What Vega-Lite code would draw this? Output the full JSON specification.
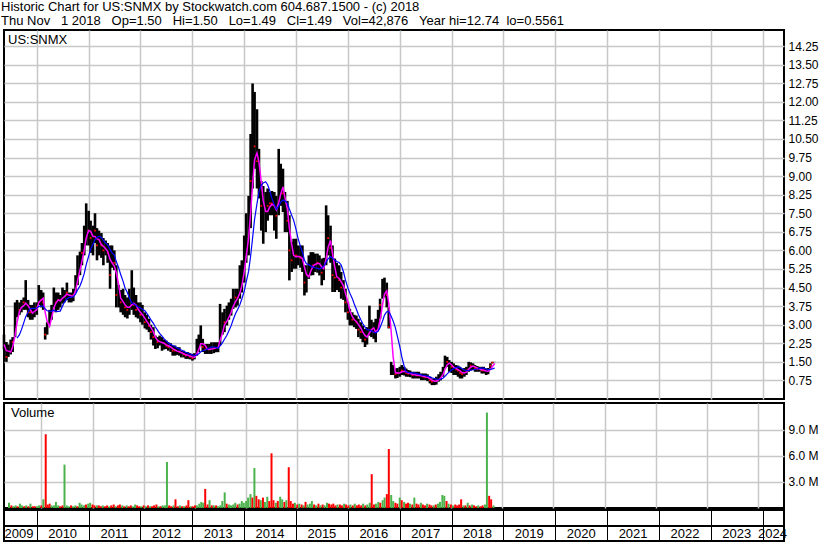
{
 "$schema": "https://vega.github.io/schema/vega-lite/v6.json",
 "background": "white",
 "padding": {"left": 0, "top": 1, "right": 0, "bottom": 0},
 "title": {"text": ["Historic Chart for US:SNMX by Stockwatch.com 604.687.1500 - (c) 2018", "Thu Nov\u00a0\u00a0\u00a01 2018\u00a0\u00a0\u00a0Op=1.50\u00a0\u00a0\u00a0Hi=1.50\u00a0\u00a0\u00a0Lo=1.49\u00a0\u00a0\u00a0Cl=1.49\u00a0\u00a0\u00a0Vol=42,876\u00a0\u00a0\u00a0Year hi=12.74\u00a0\u00a0lo=0.5561"], "anchor": "start", "font": "Liberation Sans", "fontSize": 13, "fontWeight": "normal", "lineHeight": 14, "offset": 1, "dx": 1, "color": "black"},
 "spacing": 2,
 "datasets": {
  "p": [
{"d":"2009-05-15","h":2.6,"l":2.0,"c":2.2,"v":0.6,"g":1},
{"d":"2009-06-01","h":2.3,"l":1.5,"c":1.7,"v":0.3,"g":0},
{"d":"2009-06-15","h":2.2,"l":1.7,"c":1.9,"v":0.2,"g":1},
{"d":"2009-07-01","h":2.4,"l":1.8,"c":2.1,"v":0.3,"g":1},
{"d":"2009-07-15","h":2.5,"l":1.9,"c":2.3,"v":0.2,"g":0},
{"d":"2009-08-01","h":3.9,"l":2.5,"c":3.3,"v":0.5,"g":1},
{"d":"2009-08-15","h":4.0,"l":3.3,"c":3.7,"v":0.3,"g":1},
{"d":"2009-09-01","h":3.9,"l":3.4,"c":3.6,"v":0.2,"g":0},
{"d":"2009-09-15","h":4.0,"l":3.5,"c":3.8,"v":0.3,"g":1},
{"d":"2009-10-01","h":4.1,"l":3.6,"c":3.9,"v":0.2,"g":0},
{"d":"2009-10-15","h":4.8,"l":3.6,"c":3.9,"v":0.5,"g":1},
{"d":"2009-11-01","h":4.0,"l":3.3,"c":3.5,"v":0.2,"g":0},
{"d":"2009-11-15","h":3.8,"l":3.2,"c":3.5,"v":0.2,"g":0},
{"d":"2009-12-01","h":3.8,"l":3.2,"c":3.4,"v":0.2,"g":1},
{"d":"2009-12-15","h":3.9,"l":3.3,"c":3.7,"v":0.3,"g":1},
{"d":"2010-01-01","h":3.9,"l":3.4,"c":3.7,"v":0.3,"g":0},
{"d":"2010-01-15","h":4.6,"l":3.8,"c":4.3,"v":1.0,"g":1},
{"d":"2010-02-01","h":4.4,"l":3.7,"c":4.0,"v":8.5,"g":0},
{"d":"2010-02-15","h":4.3,"l":3.6,"c":3.9,"v":0.4,"g":0},
{"d":"2010-03-01","h":2.9,"l":2.4,"c":2.6,"v":0.5,"g":0},
{"d":"2010-03-15","h":3.1,"l":2.6,"c":2.9,"v":0.3,"g":1},
{"d":"2010-04-01","h":3.6,"l":3.0,"c":3.3,"v":0.3,"g":1},
{"d":"2010-04-15","h":3.8,"l":3.2,"c":3.6,"v":0.7,"g":1},
{"d":"2010-05-01","h":4.5,"l":3.7,"c":4.1,"v":0.3,"g":1},
{"d":"2010-05-15","h":4.3,"l":3.5,"c":3.9,"v":0.2,"g":0},
{"d":"2010-06-01","h":4.3,"l":3.6,"c":4.0,"v":0.3,"g":0},
{"d":"2010-06-15","h":4.2,"l":3.7,"c":4.0,"v":5.0,"g":1},
{"d":"2010-07-01","h":4.5,"l":3.85,"c":4.2,"v":0.3,"g":1},
{"d":"2010-07-15","h":4.4,"l":3.9,"c":4.2,"v":0.2,"g":1},
{"d":"2010-08-01","h":4.7,"l":4.0,"c":4.3,"v":0.3,"g":0},
{"d":"2010-08-15","h":4.3,"l":3.9,"c":4.1,"v":0.2,"g":1},
{"d":"2010-09-01","h":4.3,"l":3.9,"c":4.1,"v":0.3,"g":1},
{"d":"2010-09-15","h":4.45,"l":3.95,"c":4.2,"v":0.2,"g":0},
{"d":"2010-10-01","h":5.0,"l":4.3,"c":4.8,"v":0.6,"g":1},
{"d":"2010-10-15","h":5.8,"l":4.6,"c":5.3,"v":0.4,"g":1},
{"d":"2010-11-01","h":5.95,"l":5.0,"c":5.5,"v":0.3,"g":1},
{"d":"2010-11-15","h":6.3,"l":5.4,"c":5.9,"v":0.4,"g":0},
{"d":"2010-12-01","h":7.0,"l":5.8,"c":6.6,"v":0.5,"g":1},
{"d":"2010-12-15","h":7.9,"l":6.2,"c":7.0,"v":0.6,"g":1},
{"d":"2011-01-01","h":7.6,"l":6.2,"c":6.8,"v":0.4,"g":0},
{"d":"2011-01-15","h":7.2,"l":5.9,"c":6.5,"v":0.3,"g":0},
{"d":"2011-02-01","h":7.0,"l":5.8,"c":6.4,"v":0.3,"g":1},
{"d":"2011-02-15","h":7.5,"l":6.3,"c":6.8,"v":0.3,"g":0},
{"d":"2011-03-01","h":6.9,"l":5.6,"c":6.2,"v":0.2,"g":0},
{"d":"2011-03-15","h":6.8,"l":5.8,"c":6.3,"v":0.3,"g":1},
{"d":"2011-04-01","h":6.7,"l":5.7,"c":6.2,"v":0.2,"g":0},
{"d":"2011-04-15","h":6.5,"l":5.4,"c":6.0,"v":0.3,"g":0},
{"d":"2011-05-01","h":6.4,"l":5.8,"c":6.0,"v":0.2,"g":1},
{"d":"2011-05-15","h":6.3,"l":5.5,"c":5.9,"v":0.3,"g":0},
{"d":"2011-06-01","h":6.2,"l":4.45,"c":5.0,"v":0.4,"g":0},
{"d":"2011-06-15","h":6.2,"l":5.3,"c":5.6,"v":0.2,"g":1},
{"d":"2011-07-01","h":6.0,"l":5.2,"c":5.5,"v":0.3,"g":0},
{"d":"2011-07-15","h":5.4,"l":3.7,"c":4.2,"v":0.4,"g":0},
{"d":"2011-08-01","h":4.6,"l":3.7,"c":4.1,"v":0.3,"g":1},
{"d":"2011-08-15","h":4.4,"l":3.5,"c":3.9,"v":0.2,"g":0},
{"d":"2011-09-01","h":4.45,"l":3.4,"c":3.8,"v":0.3,"g":1},
{"d":"2011-09-15","h":4.2,"l":3.3,"c":3.7,"v":0.2,"g":0},
{"d":"2011-10-01","h":4.1,"l":3.25,"c":3.6,"v":0.3,"g":0},
{"d":"2011-10-15","h":4.45,"l":3.4,"c":3.8,"v":0.2,"g":1},
{"d":"2011-11-01","h":5.2,"l":3.6,"c":4.0,"v":0.4,"g":1},
{"d":"2011-11-15","h":4.5,"l":3.4,"c":3.8,"v":0.3,"g":0},
{"d":"2011-12-01","h":4.2,"l":3.3,"c":3.6,"v":0.2,"g":0},
{"d":"2011-12-15","h":3.9,"l":3.25,"c":3.5,"v":0.2,"g":1},
{"d":"2012-01-01","h":3.9,"l":3.1,"c":3.4,"v":0.3,"g":0},
{"d":"2012-01-15","h":3.8,"l":3.0,"c":3.3,"v":0.2,"g":1},
{"d":"2012-02-01","h":3.5,"l":2.85,"c":3.1,"v":0.3,"g":0},
{"d":"2012-02-15","h":3.4,"l":2.8,"c":3.0,"v":0.2,"g":1},
{"d":"2012-03-01","h":3.24,"l":2.7,"c":2.95,"v":0.2,"g":0},
{"d":"2012-03-15","h":3.0,"l":2.4,"c":2.7,"v":0.3,"g":0},
{"d":"2012-04-01","h":2.9,"l":2.16,"c":2.5,"v":0.4,"g":0},
{"d":"2012-04-15","h":2.56,"l":2.02,"c":2.3,"v":0.2,"g":1},
{"d":"2012-05-01","h":2.5,"l":2.05,"c":2.3,"v":0.2,"g":0},
{"d":"2012-05-15","h":2.56,"l":2.16,"c":2.35,"v":0.3,"g":1},
{"d":"2012-06-01","h":2.5,"l":1.95,"c":2.2,"v":0.3,"g":1},
{"d":"2012-06-15","h":2.4,"l":2.0,"c":2.2,"v":5.3,"g":1},
{"d":"2012-07-01","h":2.36,"l":2.02,"c":2.15,"v":0.3,"g":0},
{"d":"2012-07-15","h":2.29,"l":1.95,"c":2.1,"v":0.2,"g":0},
{"d":"2012-08-01","h":2.25,"l":1.9,"c":2.05,"v":0.3,"g":1},
{"d":"2012-08-15","h":2.16,"l":1.75,"c":1.95,"v":1.0,"g":0},
{"d":"2012-09-01","h":2.16,"l":1.75,"c":1.95,"v":0.2,"g":0},
{"d":"2012-09-15","h":2.1,"l":1.78,"c":1.9,"v":0.3,"g":1},
{"d":"2012-10-01","h":2.09,"l":1.75,"c":1.9,"v":0.2,"g":0},
{"d":"2012-10-15","h":1.95,"l":1.68,"c":1.8,"v":0.2,"g":1},
{"d":"2012-11-01","h":1.95,"l":1.68,"c":1.8,"v":0.3,"g":0},
{"d":"2012-11-15","h":1.89,"l":1.62,"c":1.75,"v":0.9,"g":0},
{"d":"2012-12-01","h":1.89,"l":1.62,"c":1.75,"v":0.2,"g":1},
{"d":"2012-12-15","h":1.85,"l":1.6,"c":1.7,"v":0.2,"g":0},
{"d":"2013-01-01","h":1.82,"l":1.55,"c":1.65,"v":0.3,"g":0},
{"d":"2013-01-15","h":1.85,"l":1.6,"c":1.7,"v":0.3,"g":1},
{"d":"2013-02-01","h":2.43,"l":1.75,"c":2.1,"v":0.5,"g":1},
{"d":"2013-02-15","h":2.6,"l":1.9,"c":2.2,"v":0.7,"g":1},
{"d":"2013-03-01","h":2.97,"l":2.16,"c":2.4,"v":0.6,"g":1},
{"d":"2013-03-15","h":2.43,"l":1.9,"c":2.1,"v":2.2,"g":0},
{"d":"2013-04-01","h":2.22,"l":1.82,"c":2.0,"v":0.4,"g":0},
{"d":"2013-04-15","h":2.22,"l":1.82,"c":2.0,"v":0.9,"g":1},
{"d":"2013-05-01","h":2.22,"l":1.82,"c":2.0,"v":0.3,"g":0},
{"d":"2013-05-15","h":2.29,"l":1.82,"c":2.05,"v":0.3,"g":1},
{"d":"2013-06-01","h":2.29,"l":1.85,"c":2.05,"v":0.3,"g":0},
{"d":"2013-06-15","h":2.29,"l":1.89,"c":2.1,"v":0.2,"g":1},
{"d":"2013-07-01","h":2.29,"l":1.89,"c":2.1,"v":0.3,"g":1},
{"d":"2013-07-15","h":3.84,"l":2.16,"c":2.9,"v":0.8,"g":1},
{"d":"2013-08-01","h":3.5,"l":2.6,"c":3.0,"v":1.8,"g":1},
{"d":"2013-08-15","h":3.64,"l":2.7,"c":3.1,"v":0.5,"g":0},
{"d":"2013-09-01","h":3.77,"l":2.97,"c":3.3,"v":0.4,"g":1},
{"d":"2013-09-15","h":3.9,"l":3.2,"c":3.5,"v":0.3,"g":1},
{"d":"2013-10-01","h":4.05,"l":3.37,"c":3.7,"v":0.4,"g":1},
{"d":"2013-10-15","h":4.45,"l":3.64,"c":4.0,"v":0.6,"g":1},
{"d":"2013-11-01","h":4.45,"l":3.7,"c":4.1,"v":0.4,"g":0},
{"d":"2013-11-15","h":4.45,"l":3.77,"c":4.1,"v":0.5,"g":1},
{"d":"2013-12-01","h":5.4,"l":4.05,"c":4.6,"v":0.8,"g":1},
{"d":"2013-12-15","h":5.6,"l":4.3,"c":5.0,"v":0.6,"g":1},
{"d":"2014-01-01","h":6.6,"l":4.7,"c":5.8,"v":0.8,"g":1},
{"d":"2014-01-15","h":7.5,"l":5.5,"c":6.5,"v":1.2,"g":1},
{"d":"2014-02-01","h":8.2,"l":5.8,"c":7.2,"v":1.6,"g":1},
{"d":"2014-02-15","h":10.7,"l":6.9,"c":8.8,"v":1.2,"g":0},
{"d":"2014-03-01","h":12.74,"l":8.5,"c":10.0,"v":4.6,"g":1},
{"d":"2014-03-15","h":12.4,"l":9.3,"c":10.2,"v":1.4,"g":0},
{"d":"2014-04-01","h":11.7,"l":8.5,"c":9.6,"v":1.0,"g":0},
{"d":"2014-04-15","h":10.1,"l":8.1,"c":8.9,"v":0.9,"g":1},
{"d":"2014-05-01","h":8.8,"l":6.8,"c":7.8,"v":1.2,"g":0},
{"d":"2014-05-15","h":8.6,"l":6.27,"c":7.3,"v":0.7,"g":1},
{"d":"2014-06-01","h":8.36,"l":6.74,"c":7.6,"v":1.3,"g":1},
{"d":"2014-06-15","h":8.5,"l":7.2,"c":7.8,"v":0.8,"g":0},
{"d":"2014-07-01","h":8.36,"l":7.42,"c":7.9,"v":6.3,"g":0},
{"d":"2014-07-15","h":8.4,"l":7.42,"c":7.9,"v":0.9,"g":0},
{"d":"2014-08-01","h":8.36,"l":6.8,"c":7.6,"v":0.6,"g":1},
{"d":"2014-08-15","h":8.2,"l":6.47,"c":7.4,"v":0.8,"g":0},
{"d":"2014-09-01","h":10.1,"l":7.42,"c":8.8,"v":1.3,"g":1},
{"d":"2014-09-15","h":9.5,"l":7.8,"c":8.6,"v":1.0,"g":1},
{"d":"2014-10-01","h":9.3,"l":7.55,"c":8.3,"v":0.7,"g":0},
{"d":"2014-10-15","h":8.36,"l":6.74,"c":7.5,"v":0.9,"g":1},
{"d":"2014-11-01","h":8.0,"l":6.74,"c":7.2,"v":4.7,"g":0},
{"d":"2014-11-15","h":7.42,"l":4.79,"c":6.0,"v":0.8,"g":0},
{"d":"2014-12-01","h":6.34,"l":5.13,"c":5.6,"v":0.5,"g":0},
{"d":"2014-12-15","h":6.47,"l":5.26,"c":5.8,"v":0.6,"g":1},
{"d":"2015-01-01","h":6.47,"l":5.26,"c":5.8,"v":0.4,"g":0},
{"d":"2015-01-15","h":6.2,"l":5.4,"c":5.7,"v":0.5,"g":1},
{"d":"2015-02-01","h":6.2,"l":5.3,"c":5.7,"v":0.4,"g":0},
{"d":"2015-02-15","h":6.2,"l":5.13,"c":5.6,"v":0.3,"g":1},
{"d":"2015-03-01","h":5.4,"l":4.18,"c":4.7,"v":0.7,"g":0},
{"d":"2015-03-15","h":5.4,"l":4.3,"c":4.8,"v":0.4,"g":1},
{"d":"2015-04-01","h":5.8,"l":4.85,"c":5.3,"v":0.5,"g":1},
{"d":"2015-04-15","h":5.93,"l":4.99,"c":5.4,"v":0.8,"g":1},
{"d":"2015-05-01","h":5.93,"l":5.0,"c":5.4,"v":0.4,"g":0},
{"d":"2015-05-15","h":5.87,"l":5.13,"c":5.5,"v":0.3,"g":1},
{"d":"2015-06-01","h":5.87,"l":5.1,"c":5.5,"v":0.5,"g":0},
{"d":"2015-06-15","h":5.8,"l":4.99,"c":5.4,"v":0.3,"g":1},
{"d":"2015-07-01","h":5.67,"l":4.59,"c":5.1,"v":0.4,"g":0},
{"d":"2015-07-15","h":5.7,"l":4.8,"c":5.3,"v":0.3,"g":1},
{"d":"2015-08-01","h":7.82,"l":5.4,"c":6.6,"v":0.6,"g":1},
{"d":"2015-08-15","h":7.42,"l":5.8,"c":6.5,"v":0.5,"g":0},
{"d":"2015-09-01","h":7.0,"l":5.5,"c":6.1,"v":0.4,"g":0},
{"d":"2015-09-15","h":6.2,"l":4.32,"c":5.0,"v":0.5,"g":0},
{"d":"2015-10-01","h":5.67,"l":4.32,"c":4.9,"v":0.3,"g":0},
{"d":"2015-10-15","h":5.5,"l":4.4,"c":4.9,"v":0.4,"g":1},
{"d":"2015-11-01","h":5.4,"l":4.32,"c":4.8,"v":0.4,"g":0},
{"d":"2015-11-15","h":5.13,"l":4.05,"c":4.5,"v":0.3,"g":0},
{"d":"2015-12-01","h":4.8,"l":4.0,"c":4.4,"v":0.5,"g":1},
{"d":"2015-12-15","h":4.45,"l":3.5,"c":3.9,"v":0.4,"g":0},
{"d":"2016-01-01","h":3.9,"l":3.2,"c":3.5,"v":0.3,"g":0},
{"d":"2016-01-15","h":3.64,"l":2.97,"c":3.3,"v":0.4,"g":1},
{"d":"2016-02-01","h":3.5,"l":2.97,"c":3.2,"v":0.3,"g":0},
{"d":"2016-02-15","h":3.4,"l":2.9,"c":3.1,"v":0.5,"g":1},
{"d":"2016-03-01","h":3.37,"l":2.83,"c":3.1,"v":0.3,"g":0},
{"d":"2016-03-15","h":3.24,"l":2.5,"c":2.8,"v":0.4,"g":0},
{"d":"2016-04-01","h":3.1,"l":2.43,"c":2.7,"v":0.3,"g":0},
{"d":"2016-04-15","h":2.97,"l":2.29,"c":2.6,"v":0.5,"g":1},
{"d":"2016-05-01","h":2.83,"l":2.1,"c":2.4,"v":0.3,"g":0},
{"d":"2016-05-15","h":2.9,"l":2.2,"c":2.5,"v":0.4,"g":1},
{"d":"2016-06-01","h":3.77,"l":2.56,"c":3.1,"v":0.6,"g":1},
{"d":"2016-06-15","h":3.2,"l":2.5,"c":2.8,"v":3.9,"g":0},
{"d":"2016-07-01","h":3.1,"l":2.43,"c":2.7,"v":0.4,"g":0},
{"d":"2016-07-15","h":3.24,"l":2.29,"c":2.6,"v":0.5,"g":1},
{"d":"2016-08-01","h":3.6,"l":2.8,"c":3.2,"v":0.7,"g":1},
{"d":"2016-08-15","h":4.05,"l":3.24,"c":3.8,"v":0.6,"g":0},
{"d":"2016-09-01","h":4.85,"l":4.05,"c":4.4,"v":0.9,"g":1},
{"d":"2016-09-15","h":4.9,"l":4.1,"c":4.5,"v":1.2,"g":1},
{"d":"2016-10-01","h":4.7,"l":3.7,"c":4.2,"v":1.6,"g":0},
{"d":"2016-10-15","h":3.7,"l":2.85,"c":2.9,"v":6.8,"g":0},
{"d":"2016-11-01","h":1.5,"l":0.97,"c":1.1,"v":1.5,"g":1},
{"d":"2016-11-15","h":1.37,"l":0.97,"c":1.1,"v":0.8,"g":1},
{"d":"2016-12-01","h":1.23,"l":0.83,"c":1.0,"v":0.6,"g":0},
{"d":"2016-12-15","h":1.25,"l":0.85,"c":1.05,"v":0.5,"g":0},
{"d":"2017-01-01","h":1.3,"l":0.9,"c":1.1,"v":1.2,"g":1},
{"d":"2017-01-15","h":1.37,"l":0.97,"c":1.15,"v":0.9,"g":0},
{"d":"2017-02-01","h":1.3,"l":0.95,"c":1.1,"v":0.7,"g":1},
{"d":"2017-02-15","h":1.23,"l":0.9,"c":1.05,"v":0.5,"g":0},
{"d":"2017-03-01","h":1.17,"l":0.9,"c":1.02,"v":0.6,"g":0},
{"d":"2017-03-15","h":1.15,"l":0.88,"c":1.0,"v":0.5,"g":1},
{"d":"2017-04-01","h":1.1,"l":0.83,"c":0.97,"v":0.4,"g":0},
{"d":"2017-04-15","h":1.1,"l":0.83,"c":0.97,"v":1.2,"g":1},
{"d":"2017-05-01","h":1.1,"l":0.83,"c":0.95,"v":0.5,"g":0},
{"d":"2017-05-15","h":1.1,"l":0.83,"c":0.95,"v":0.4,"g":0},
{"d":"2017-06-01","h":1.03,"l":0.76,"c":0.9,"v":0.6,"g":1},
{"d":"2017-06-15","h":1.03,"l":0.76,"c":0.9,"v":0.4,"g":0},
{"d":"2017-07-01","h":1.03,"l":0.76,"c":0.88,"v":0.3,"g":0},
{"d":"2017-07-15","h":1.0,"l":0.72,"c":0.85,"v":0.5,"g":1},
{"d":"2017-08-01","h":0.9,"l":0.63,"c":0.75,"v":0.4,"g":0},
{"d":"2017-08-15","h":0.83,"l":0.56,"c":0.7,"v":0.3,"g":0},
{"d":"2017-09-01","h":0.83,"l":0.56,"c":0.7,"v":0.3,"g":1},
{"d":"2017-09-15","h":0.9,"l":0.58,"c":0.75,"v":0.4,"g":0},
{"d":"2017-10-01","h":1.0,"l":0.7,"c":0.85,"v":0.5,"g":1},
{"d":"2017-10-15","h":1.1,"l":0.75,"c":0.95,"v":0.7,"g":1},
{"d":"2017-11-01","h":1.3,"l":0.9,"c":1.15,"v":1.5,"g":1},
{"d":"2017-11-15","h":1.75,"l":1.23,"c":1.5,"v":1.4,"g":1},
{"d":"2017-12-01","h":1.7,"l":1.3,"c":1.5,"v":0.8,"g":0},
{"d":"2017-12-15","h":1.57,"l":1.1,"c":1.35,"v":0.5,"g":1},
{"d":"2018-01-01","h":1.5,"l":1.05,"c":1.3,"v":0.4,"g":0},
{"d":"2018-01-15","h":1.44,"l":0.97,"c":1.2,"v":0.3,"g":1},
{"d":"2018-02-01","h":1.37,"l":0.97,"c":1.2,"v":0.4,"g":0},
{"d":"2018-02-15","h":1.35,"l":0.9,"c":1.15,"v":0.3,"g":0},
{"d":"2018-03-01","h":1.3,"l":0.83,"c":1.05,"v":0.4,"g":0},
{"d":"2018-03-15","h":1.23,"l":0.83,"c":1.0,"v":1.0,"g":0},
{"d":"2018-04-01","h":1.25,"l":0.9,"c":1.1,"v":0.3,"g":1},
{"d":"2018-04-15","h":1.3,"l":0.97,"c":1.15,"v":0.3,"g":0},
{"d":"2018-05-01","h":1.5,"l":1.1,"c":1.35,"v":0.6,"g":1},
{"d":"2018-05-15","h":1.48,"l":1.15,"c":1.35,"v":0.3,"g":0},
{"d":"2018-06-01","h":1.44,"l":1.17,"c":1.3,"v":0.4,"g":1},
{"d":"2018-06-15","h":1.37,"l":1.1,"c":1.25,"v":0.3,"g":0},
{"d":"2018-07-01","h":1.33,"l":1.1,"c":1.2,"v":0.2,"g":0},
{"d":"2018-07-15","h":1.3,"l":1.1,"c":1.2,"v":0.3,"g":1},
{"d":"2018-08-01","h":1.3,"l":1.03,"c":1.15,"v":0.2,"g":0},
{"d":"2018-08-15","h":1.3,"l":1.03,"c":1.15,"v":0.3,"g":0},
{"d":"2018-09-01","h":1.23,"l":0.97,"c":1.1,"v":0.4,"g":1},
{"d":"2018-09-15","h":1.25,"l":1.0,"c":1.12,"v":11.0,"g":1},
{"d":"2018-10-01","h":1.44,"l":1.23,"c":1.35,"v":1.4,"g":0},
{"d":"2018-10-15","h":1.5,"l":1.44,"c":1.47,"v":1.0,"g":0},
{"d":"2018-11-01","h":1.5,"l":1.49,"c":1.49,"v":0.3,"g":1}
  ],
  "yrs": [
{"yr":"2009","m":"2009-08-29"},{"yr":"2010","m":"2010-07-02"},{"yr":"2011","m":"2011-07-02"},{"yr":"2012","m":"2012-07-02"},{"yr":"2013","m":"2013-07-02"},{"yr":"2014","m":"2014-07-02"},{"yr":"2015","m":"2015-07-02"},{"yr":"2016","m":"2016-07-02"},{"yr":"2017","m":"2017-07-02"},{"yr":"2018","m":"2018-07-02"},{"yr":"2019","m":"2019-07-02"},{"yr":"2020","m":"2020-07-02"},{"yr":"2021","m":"2021-07-02"},{"yr":"2022","m":"2022-07-02"},{"yr":"2023","m":"2023-07-02"},{"yr":"2024","m":"2024-03-10"}
  ]
 },
 "vconcat": [
  {
   "width": 780, "height": 369,
   "title": {"text": "US:SNMX", "anchor": "start", "offset": -17, "dx": 7, "fontSize": 13, "fontWeight": "normal", "font": "Liberation Sans", "color": "black"},
   "data": {"name": "p"},
   "encoding": {"x": {"field": "d", "type": "temporal", "title": null, "scale": {"nice": false, "domain": [{"year": 2009, "month": 5, "date": 15}, {"year": 2024, "month": 5, "date": 30}]}, "axis": {"tickCount": "year", "labels": false, "ticks": false, "domain": false, "grid": true}}},
   "layer": [
    {"mark": {"type": "rule", "strokeWidth": 2.6, "color": "black"},
     "encoding": {"y": {"field": "l", "type": "quantitative", "title": null, "scale": {"domain": [0, 14.9], "nice": false, "zero": false}, "axis": {"orient": "right", "values": [0.75,1.5,2.25,3,3.75,4.5,5.25,6,6.75,7.5,8.25,9,9.75,10.5,11.25,12,12.75,13.5,14.25], "tickCount": 40, "format": ".2f", "grid": true, "ticks": false, "domain": false, "labelPadding": 4, "labelOverlap": false}}, "y2": {"field": "h"}}},
    {"transform": [{"filter": "datum.g == 0"}],
     "mark": {"type": "square", "size": 3, "color": "#ff0000", "opacity": 1},
     "encoding": {"y": {"field": "c", "type": "quantitative"}}},
    {"transform": [{"window": [{"op": "mean", "field": "c", "as": "m1"}], "frame": [-2, 0], "sort": [{"field": "d"}]}],
     "mark": {"type": "line", "color": "#ff00ff", "strokeWidth": 1.5},
     "encoding": {"y": {"field": "m1", "type": "quantitative"}}},
    {"transform": [{"window": [{"op": "mean", "field": "c", "as": "m2"}, {"op": "row_number", "as": "rn"}], "frame": [-7, 0], "sort": [{"field": "d"}]}, {"filter": "datum.rn > 6"}],
     "mark": {"type": "line", "color": "#0000ff", "strokeWidth": 1.2},
     "encoding": {"y": {"field": "m2", "type": "quantitative"}}}
   ]
  },
  {
   "spacing": 0,
   "vconcat": [
    {
     "width": 780, "height": 105,
     "title": {"text": "Volume", "anchor": "start", "offset": -17, "dx": 7, "fontSize": 13, "fontWeight": "normal", "font": "Liberation Sans", "color": "black"},
     "data": {"name": "p"},
     "mark": {"type": "bar", "size": 2},
     "encoding": {
      "x": {"field": "d", "type": "temporal", "title": null, "scale": {"nice": false, "domain": [{"year": 2009, "month": 5, "date": 15}, {"year": 2024, "month": 5, "date": 30}]}, "axis": {"tickCount": "year", "labels": false, "ticks": false, "domain": false, "grid": true}},
      "y": {"field": "v", "type": "quantitative", "title": null, "scale": {"domain": [0, 12.1], "nice": false}, "axis": {"orient": "right", "values": [3, 6, 9], "tickCount": 10, "labelExpr": "format(datum.value, '.1f') + ' M'", "grid": true, "ticks": false, "domain": false, "labelPadding": 4, "labelOverlap": false}},
      "color": {"field": "g", "type": "nominal", "scale": {"domain": [0, 1], "range": ["#ff0000", "#4cb34c"]}, "legend": null}
     }
    },
    {
     "width": 780, "height": 31,
     "layer": [
      {"data": {"values": [{"k": 1}]},
       "mark": {"type": "rule", "color": "black", "strokeWidth": 2},
       "encoding": {"y": {"datum": 15, "type": "quantitative", "scale": {"domain": [0, 31], "nice": false}, "axis": null}}},
      {"data": {"name": "yrs"},
       "mark": {"type": "text", "fontSize": 13, "font": "Liberation Sans", "color": "black", "baseline": "middle", "align": "center"},
       "encoding": {
        "x": {"field": "m", "type": "temporal", "title": null, "scale": {"nice": false, "domain": [{"year": 2009, "month": 5, "date": 15}, {"year": 2024, "month": 5, "date": 30}]}, "axis": {"tickCount": "year", "labels": false, "ticks": false, "domain": false, "grid": true, "gridColor": "black", "gridWidth": 1}},
        "y": {"datum": 7, "type": "quantitative"},
        "text": {"field": "yr"}
       }}
     ]
    }
   ]
  }
 ],
 "config": {
  "view": {"stroke": "black", "strokeWidth": 2},
  "axis": {"labelFont": "Liberation Sans", "labelFontSize": 12, "labelColor": "black", "gridColor": "#c8c8c8", "gridWidth": 1.5, "gridOpacity": 1, "labelOverlap": false}
 }
}
